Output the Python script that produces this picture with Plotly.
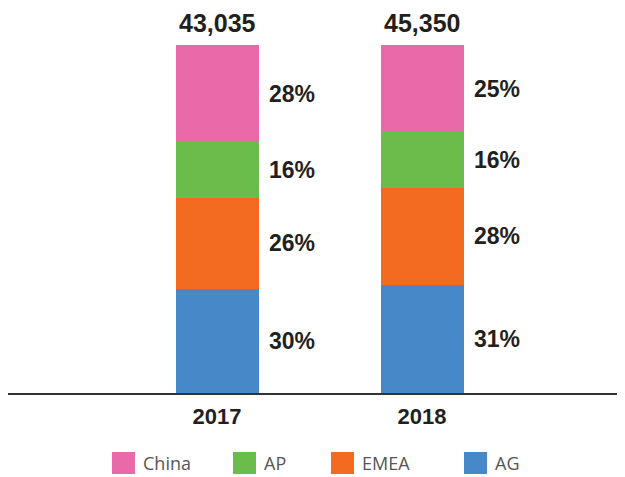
import plotly.graph_objects as go

years = ["2017", "2018"]
totals = ["43,035", "45,350"]
regions = ["AG", "EMEA", "AP", "China"]  # bottom to top
shares = {
    "AG": [30, 31],
    "EMEA": [26, 28],
    "AP": [16, 16],
    "China": [28, 25],
}
colors = {"AG": "#4688C8", "EMEA": "#F26B21", "AP": "#6BBD4B", "China": "#E86AA8"}
legend_order = ["China", "AP", "EMEA", "AG"]

BOLD = "Liberation Sans"
OFF = 8  # page body margin
W, H = 625 - OFF, 477 - OFF
L, R, T, B = 0, 0, 45 - OFF, 84

fig = go.Figure()
for r in regions:
    fig.add_trace(go.Bar(
        x=years, y=shares[r], name=r, marker_color=colors[r],
        marker_line_width=0, width=0.405, showlegend=False,
    ))

annotations = []
# percentage labels beside each segment
for i, yr in enumerate(years):
    base = 0
    for r in regions:
        v = shares[r][i]
        annotations.append(dict(
            x=i, y=base + v / 2, text=f"<b>{v}%</b>", showarrow=False,
            xref="x", yref="y",
            xanchor="left", yanchor="middle", xshift=50,
            font=dict(family=BOLD, size=23, color="#231F20"),
        ))
        base += v
    annotations.append(dict(
        x=i, y=base, text=f"<b>{totals[i]}</b>", showarrow=False,
        xref="x", yref="y",
        xanchor="center", yanchor="middle", yshift=22,
        font=dict(family=BOLD, size=25, color="#231F20"),
    ))

# legend drawn by hand (large square swatches)
pw, ph = W - L - R, H - T - B
swatch_x = [112, 233, 331, 464]
shapes = []
for name, sx in zip(legend_order, swatch_x):
    sx -= OFF
    sy = 452 - OFF
    shapes.append(dict(
        type="rect", xref="paper", yref="paper",
        x0=(sx - L) / pw, x1=(sx + 23 - L) / pw,
        y0=(H - B - sy) / ph, y1=(H - B - sy - 22) / ph,
        fillcolor=colors[name], line_width=0,
    ))
    annotations.append(dict(
        xref="paper", yref="paper", x=(sx + 29 - L) / pw, y=(H - B - sy - 11) / ph,
        text=name, showarrow=False, xanchor="left", yanchor="middle",
        font=dict(family="Open Sans", size=18, color="#555555"),
    ))

fig.update_layout(
    barmode="stack",
    width=W, height=H,
    margin=dict(l=L, r=R, t=T, b=B, pad=0),
    plot_bgcolor="white", paper_bgcolor="white",
    annotations=annotations, shapes=shapes,
    showlegend=False,
)
fig.update_xaxes(
    type="category",
    range=[-1.02, 1.99], showgrid=False, zeroline=False,
    showline=True, linecolor="#333333", linewidth=2,
    ticks="", tickfont=dict(family=BOLD, size=22, color="#231F20"),
    tickprefix="<b>", ticksuffix="</b>", ticklabelstandoff=3,
)
fig.update_yaxes(range=[0, 100], visible=False)

fig.write_html("out.html")
